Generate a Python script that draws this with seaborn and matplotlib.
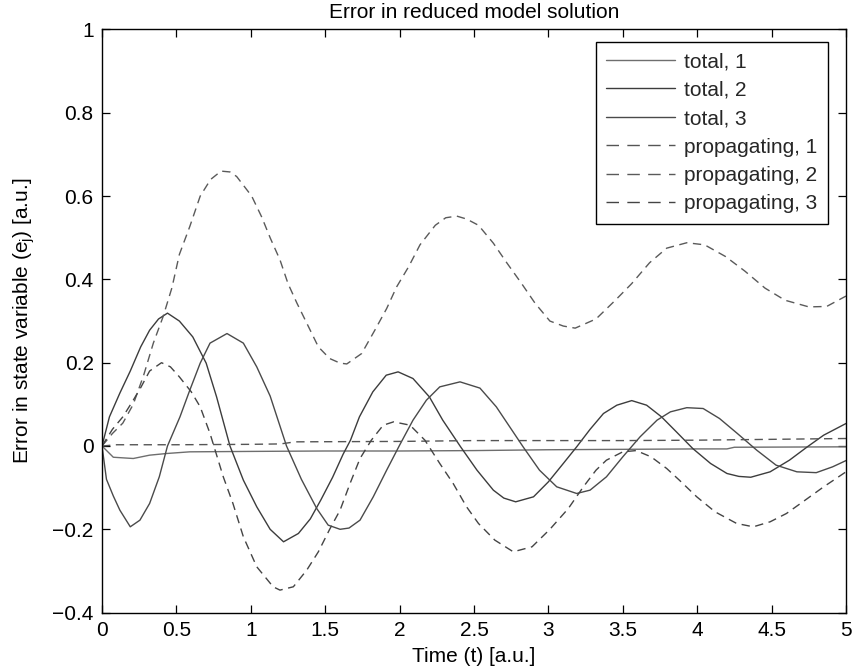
import numpy as np
import pandas as pd
import matplotlib
matplotlib.use("Agg")
import matplotlib.pyplot as plt
import seaborn as sns

# ---------------- data ----------------
title = "Error in reduced model solution"
xlabel = "Time (t) [a.u.]"
ylabel = r"Error in state variable (e$_j$) [a.u.]"

labels = ["total, 1", "total, 2", "total, 3",
          "propagating, 1", "propagating, 2", "propagating, 3"]

# total, 1 (near zero, solid)
t1_x = [0, 0.076, 0.21, 0.32, 0.435, 0.59, 1.0, 1.5, 2.0, 2.5, 3.0, 3.5, 4.0, 4.2, 4.25, 5.0]
t1_y = [0, -0.027, -0.030, -0.022, -0.018, -0.014, -0.013, -0.012, -0.012, -0.011,
        -0.009, -0.008, -0.007, -0.007, -0.003, -0.002]

# total, 2 (solid, first peak ~0.32)
t2_x = [0, 0.05, 0.12, 0.19, 0.26, 0.32, 0.38, 0.44, 0.52, 0.61, 0.70, 0.77, 0.86, 0.95,
        1.04, 1.13, 1.22, 1.32, 1.40, 1.47, 1.55, 1.62, 1.67, 1.73, 1.82, 1.91, 1.99,
        2.09, 2.20, 2.29, 2.41, 2.52, 2.63, 2.70, 2.78, 2.90, 3.00, 3.10, 3.19, 3.28,
        3.37, 3.46, 3.56, 3.66, 3.76, 3.86, 3.97, 4.09, 4.20, 4.28, 4.36, 4.49, 4.62,
        4.74, 4.85, 5.0]
t2_y = [0, 0.07, 0.127, 0.18, 0.238, 0.278, 0.305, 0.319, 0.30, 0.262, 0.199, 0.118,
        0.0, -0.082, -0.146, -0.20, -0.23, -0.21, -0.175, -0.13, -0.075, -0.02, 0.014,
        0.07, 0.13, 0.17, 0.178, 0.162, 0.118, 0.062, -0.002, -0.058, -0.106, -0.125,
        -0.134, -0.122, -0.086, -0.042, -0.002, 0.04, 0.078, 0.098, 0.109, 0.098, 0.07,
        0.034, -0.006, -0.042, -0.066, -0.073, -0.075, -0.062, -0.034, -0.002, 0.026,
        0.054]

# total, 3 (solid, first dip ~-0.19)
t3_x = [0, 0.03, 0.076, 0.12, 0.19, 0.255, 0.32, 0.385, 0.44, 0.524, 0.59, 0.66, 0.726,
        0.84, 0.95, 1.04, 1.13, 1.24, 1.34, 1.443, 1.52, 1.60, 1.66, 1.734, 1.823,
        1.913, 2.0, 2.09, 2.18, 2.27, 2.406, 2.54, 2.65, 2.74, 2.83, 2.94, 3.056, 3.19,
        3.28, 3.39, 3.50, 3.616, 3.73, 3.82, 3.93, 4.04, 4.15, 4.27, 4.40, 4.53, 4.67,
        4.80, 4.91, 5.0]
t3_y = [0, -0.08, -0.12, -0.154, -0.194, -0.178, -0.138, -0.074, 0.0, 0.07, 0.134,
        0.199, 0.247, 0.27, 0.247, 0.19, 0.12, 0.0, -0.08, -0.15, -0.19, -0.2, -0.197,
        -0.178, -0.122, -0.058, 0.002, 0.062, 0.11, 0.142, 0.154, 0.139, 0.094, 0.046,
        -0.002, -0.058, -0.098, -0.114, -0.106, -0.074, -0.026, 0.022, 0.062, 0.082,
        0.092, 0.09, 0.066, 0.03, -0.01, -0.046, -0.062, -0.064, -0.05, -0.035]

# propagating, 1 (near zero, dashed)
p1_x = [0, 0.1, 0.5, 1.0, 1.2, 1.3, 2.0, 2.5, 3.0, 3.5, 4.0, 4.5, 5.0]
p1_y = [0, 0.003, 0.003, 0.004, 0.005, 0.010, 0.011, 0.013, 0.013, 0.013, 0.014, 0.016, 0.018]

# propagating, 2 (dashed, large peak ~0.66)
p2_x = [0, 0.07, 0.14, 0.21, 0.28, 0.345, 0.41, 0.47, 0.52, 0.59, 0.66, 0.73, 0.80,
        0.86, 0.905, 1.006, 1.073, 1.13, 1.196, 1.25, 1.31, 1.376, 1.454, 1.53, 1.60,
        1.645, 1.745, 1.835, 1.913, 1.98, 2.06, 2.137, 2.24, 2.31, 2.384, 2.45, 2.53,
        2.63, 2.72, 2.82, 2.91, 3.01, 3.10, 3.18, 3.32, 3.45, 3.56, 3.68, 3.795, 3.93,
        4.05, 4.19, 4.32, 4.456, 4.59, 4.75, 4.87, 5.0]
p2_y = [0, 0.03, 0.055, 0.10, 0.17, 0.247, 0.31, 0.38, 0.46, 0.527, 0.60, 0.64, 0.66,
        0.658, 0.647, 0.60, 0.55, 0.50, 0.447, 0.39, 0.343, 0.295, 0.238, 0.21, 0.199,
        0.197, 0.222, 0.279, 0.33, 0.382, 0.43, 0.483, 0.53, 0.548, 0.552, 0.545, 0.53,
        0.487, 0.44, 0.39, 0.343, 0.30, 0.288, 0.283, 0.305, 0.35, 0.39, 0.44, 0.475,
        0.488, 0.483, 0.455, 0.42, 0.379, 0.35, 0.334, 0.335, 0.36]

# propagating, 3 (dashed, dips to ~-0.35)
p3_x = [0, 0.07, 0.14, 0.21, 0.26, 0.32, 0.40, 0.46, 0.52, 0.60, 0.66, 0.726, 0.815,
        0.88, 0.95, 1.04, 1.15, 1.196, 1.286, 1.376, 1.454, 1.53, 1.60, 1.667, 1.734,
        1.81, 1.89, 1.96, 2.07, 2.17, 2.27, 2.36, 2.45, 2.53, 2.64, 2.764, 2.89, 3.01,
        3.134, 3.235, 3.32, 3.39, 3.50, 3.59, 3.69, 3.795, 3.88, 3.997, 4.12, 4.265,
        4.377, 4.49, 4.60, 4.71, 4.85, 5.0]
p3_y = [0, 0.04, 0.07, 0.11, 0.14, 0.18, 0.20, 0.19, 0.166, 0.13, 0.094, 0.03, -0.074,
        -0.138, -0.218, -0.29, -0.338, -0.346, -0.338, -0.298, -0.254, -0.20, -0.154,
        -0.09, -0.03, 0.014, 0.05, 0.058, 0.05, 0.014, -0.042, -0.09, -0.146, -0.186,
        -0.226, -0.254, -0.242, -0.20, -0.15, -0.098, -0.058, -0.034, -0.014, -0.011,
        -0.026, -0.054, -0.082, -0.122, -0.158, -0.186, -0.194, -0.182, -0.162, -0.134,
        -0.098, -0.062]

x_ticks = [0, 0.5, 1, 1.5, 2, 2.5, 3, 3.5, 4, 4.5, 5]
x_ticklabels = ["0", "0.5", "1", "1.5", "2", "2.5", "3", "3.5", "4", "4.5", "5"]
y_ticks = [-0.4, -0.2, 0, 0.2, 0.4, 0.6, 0.8, 1]
y_ticklabels = ["\u22120.4", "\u22120.2", "0", "0.2", "0.4", "0.6", "0.8", "1"]

# ---------------- style ----------------
sns.set_theme(style="ticks")
plt.rcParams["font.family"] = ["Liberation Sans", "DejaVu Sans"]
plt.rcParams["mathtext.default"] = "regular"
plt.rcParams["axes.edgecolor"] = "black"

FS = 15

series = [
    (t1_x, t1_y, "#6e6e6e", "-"),
    (t2_x, t2_y, "#3c3c3c", "-"),
    (t3_x, t3_y, "#4a4a4a", "-"),
    (p1_x, p1_y, "#555555", (0, (6, 4))),
    (p2_x, p2_y, "#5a5a5a", (0, (6, 4))),
    (p3_x, p3_y, "#444444", (0, (6, 4))),
]

fig = plt.figure(figsize=(8.54, 6.72), dpi=100)
ax = fig.add_axes([102 / 854, 1 - 612.6 / 672, 744 / 854, 583.1 / 672])

for (xs, ys, col, ls), lab in zip(series, labels):
    df = pd.DataFrame({"x": xs, "y": ys})
    sns.lineplot(data=df, x="x", y="y", ax=ax, color=col, linestyle=ls,
                 linewidth=1.0, estimator=None, sort=False, label=lab, legend=False)

ax.set_xlim(0, 5)
ax.set_ylim(-0.4, 1)
ax.set_xticks(x_ticks)
ax.set_xticklabels(x_ticklabels)
ax.set_yticks(y_ticks)
ax.set_yticklabels(y_ticklabels)
ax.tick_params(direction="in", length=6, width=0.9, top=True, right=True,
               labelsize=FS, colors="black", pad=6)
for sp in ax.spines.values():
    sp.set_visible(True)
    sp.set_linewidth(1.0)
    sp.set_color("black")

ax.set_title(title, fontsize=FS, pad=8, color="black")
ax.set_xlabel(xlabel, fontsize=FS, labelpad=5, color="black")
ax.set_ylabel(ylabel, fontsize=FS, labelpad=11, color="black")

handles = ax.get_lines()[:6]
leg = ax.legend(handles, labels, loc="upper right",
                bbox_to_anchor=((828 - 102) / 744, (612.6 - 42) / 583.1),
                borderaxespad=0, fontsize=FS, frameon=True, fancybox=False,
                framealpha=1, edgecolor="black", handlelength=3.3,
                handletextpad=0.45, labelspacing=0.45, borderpad=0.5)
leg.get_frame().set_linewidth(1.0)
for lh in leg.get_lines()[3:]:
    lh.set_dashes((9, 6))

fig.savefig("out.png", dpi=100, facecolor="white")
